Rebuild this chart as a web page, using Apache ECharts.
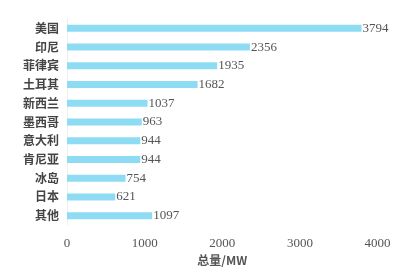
<!DOCTYPE html>
<html><head><meta charset="utf-8">
<script src="https://cdn.jsdelivr.net/npm/echarts@6/dist/echarts.min.js"></script>
<style>html,body{margin:0;padding:0;background:#fff}#c{width:400px;height:272px}</style>
</head><body><div id="c"></div>
<script>
const categories = ['美国','印尼','菲律宾','土耳其','新西兰','墨西哥','意大利','肯尼亚','冰岛','日本','其他'];
const values = [3794,2356,1935,1682,1037,963,944,944,754,621,1097];
const xTicks = [0,1000,2000,3000,4000];
const axisName = '总量/MW';

const chart = echarts.init(document.getElementById('c'), null, {renderer:'canvas'});
chart.setOption({
  animation:false,
  backgroundColor:'#fff',
  grid:{left:67,right:22.5,top:19,bottom:47,containLabel:false},
  xAxis:{
    type:'value', min:xTicks[0], max:xTicks[xTicks.length-1], interval:1000,
    name:axisName, nameLocation:'middle', nameGap:29,
    nameTextStyle:{color:'#555',fontSize:12,fontWeight:'bold',fontFamily:'Noto Sans CJK SC'},
    axisLine:{show:false}, axisTick:{show:false}, splitLine:{show:false},
    axisLabel:{color:'#555',fontSize:13,fontFamily:'Liberation Serif',margin:12,formatter:v=>String(v)}
  },
  yAxis:{
    type:'category', data:categories, inverse:true,
    axisLine:{show:true,lineStyle:{color:'#eeeeee'}}, axisTick:{show:false},
    axisLabel:{color:'#444',fontSize:12,fontWeight:'bold',fontFamily:'Noto Sans CJK SC',margin:8}
  },
  series:[{
    type:'bar', data:values, barWidth:7,
    itemStyle:{color:'#8ddcf3'},
    label:{show:true,position:'right',distance:1,color:'#555',fontSize:13,fontFamily:'Liberation Serif'}
  }]
});
</script></body></html>
